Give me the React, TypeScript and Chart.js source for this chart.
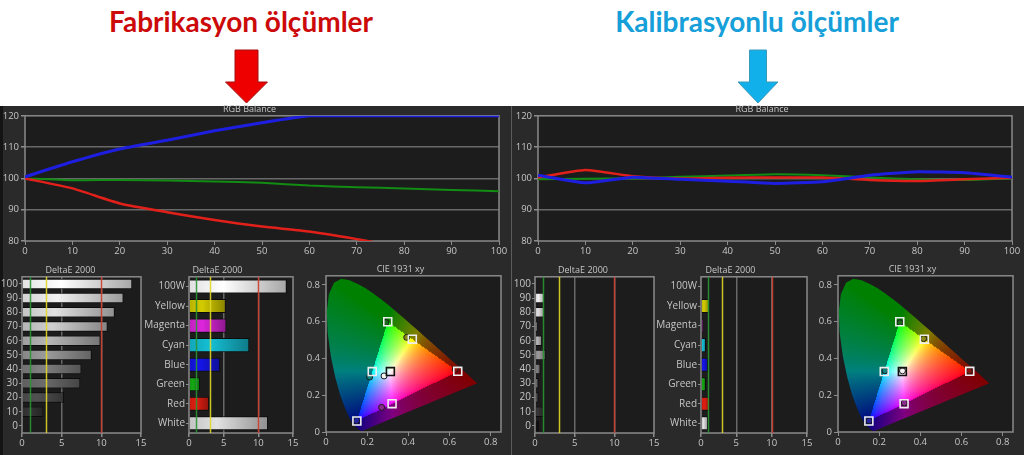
import React, { useEffect, useRef } from "react";
import { Chart, registerables } from "chart.js";
Chart.register(...registerables);

// ---------------- DATA ----------------
const rgbLevels = [0, 10, 20, 30, 40, 50, 60, 70, 80, 90, 100];
const factoryRed = [100, 96.8, 92, 89.2, 86.7, 84.6, 83, 80.6, 78, 76.5, 75];
const factoryGreen = [100, 99.4, 99.5, 99.3, 99, 98.6, 97.7, 97.2, 96.8, 96.3, 95.9];
const factoryBlue = [100.5, 105.3, 109.4, 112.2, 115.2, 117.8, 120, 120, 120, 120, 120];
const calRed = [100.3, 102.7, 100.7, 100, 100.2, 100.3, 100.3, 99.5, 99.2, 99.7, 100.2];
const calGreen = [99.7, 99.9, 100, 100.5, 100.9, 101.3, 101, 100.3, 99.7, 99.5, 100];
const calBlue = [101, 98.6, 100.4, 99.7, 99.1, 98.4, 98.9, 101, 102.1, 101.8, 100.4];

const grayLabels = ["100", "90", "80", "70", "60", "50", "40", "30", "20", "10", "0"];
const factoryGrayDE = [13.9, 12.8, 11.7, 10.8, 9.9, 8.8, 7.5, 7.35, 5.3, 2.7, 0];
const calGrayDE = [0, 1.2, 1.15, 0.3, 0.9, 1.35, 0.7, 0.45, 0.45, 1.1, 0.5];
const grayBarColors = ["#f6f6f6", "#e4e4e4", "#d4d4d4", "#c4c4c4", "#acacac", "#929292", "#7a7a7a", "#666666", "#4c4c4c", "#333333", "#101010"];

const colorLabels = ["100W", "Yellow", "Magenta", "Cyan", "Blue", "Green", "Red", "White"];
const factoryColorDE = [14.1, 5.3, 5.4, 8.7, 4.5, 1.6, 2.9, 11.4];
const calColorDE = [0, 1.2, 0.3, 0.7, 1.0, 0.7, 1.3, 1.0];
const colorBarColors = ["#f4f4f4", "#c8c000", "#d024d0", "#14b4c8", "#1414dc", "#14a014", "#d41c10", "#d4d4d4"];

const deltaRefValues = [1, 3, 10];
const deltaRefColors = ["rgba(40,150,50,0.9)", "rgba(225,215,40,0.9)", "rgba(205,60,45,0.9)"];

// CIE 1931 spectral locus (x, y)
const locusX = [0.1741, 0.1714, 0.1644, 0.1566, 0.144, 0.1241, 0.1096, 0.0913, 0.0687, 0.0454, 0.0235, 0.0082, 0.0039, 0.0139, 0.0389, 0.0743, 0.1142, 0.1547, 0.1929, 0.2296, 0.2658, 0.3016, 0.3373, 0.3731, 0.4087, 0.4441, 0.4788, 0.5125, 0.5448, 0.5752, 0.6029, 0.627, 0.6658, 0.6915, 0.719, 0.7347];
const locusY = [0.005, 0.0051, 0.0109, 0.0177, 0.0297, 0.0578, 0.0868, 0.1327, 0.2007, 0.295, 0.4127, 0.5384, 0.6548, 0.7502, 0.812, 0.8338, 0.8262, 0.8059, 0.7816, 0.7543, 0.7243, 0.6923, 0.6589, 0.6245, 0.5896, 0.5547, 0.5202, 0.4866, 0.4544, 0.4242, 0.3965, 0.3725, 0.334, 0.3083, 0.2809, 0.2653];

// targets: R, G, B, Y, C, M, W
const targetX = [0.64, 0.3, 0.15, 0.4193, 0.2246, 0.3209, 0.3127];
const targetY = [0.33, 0.6, 0.06, 0.5053, 0.3287, 0.1542, 0.329];
const targetBorder = ["#eeeeee", "#eeeeee", "#eeeeee", "#eeeeee", "#eeeeee", "#eeeeee", "#111111"];
const factoryMeasX = [0.628, 0.291, 0.148, 0.392, 0.212, 0.27, 0.282];
const factoryMeasY = [0.341, 0.596, 0.062, 0.515, 0.299, 0.134, 0.305];
const calMeasX = [0.638, 0.301, 0.151, 0.416, 0.228, 0.322, 0.313];
const calMeasY = [0.332, 0.595, 0.061, 0.508, 0.333, 0.158, 0.333];
const measColors = ["#8a1410", "#1c6a1c", "#2424a0", "#8a8a14", "#128080", "#8a2a8a", "#f2f2f2"];
const cieTicks = [0, 0.2, 0.4, 0.6, 0.8];

// ---------------- HELPERS ----------------
Chart.defaults.font.family = "'Open Sans', 'DejaVu Sans', sans-serif";
Chart.defaults.font.size = 9.5;
Chart.defaults.color = "#c6c6c6";

const GRID = "#686868";
const TICK = "#8c8c8c";

function shade(hex: string, f: number) {
  const n = parseInt(hex.slice(1), 16);
  const r = Math.min(255, Math.round(((n >> 16) & 255) * f));
  const g = Math.min(255, Math.round(((n >> 8) & 255) * f));
  const b = Math.min(255, Math.round((n & 255) * f));
  return `rgb(${r},${g},${b})`;
}

function framePlugin() {
  return {
    id: "frame",
    beforeDraw(chart: any) {
      const { ctx, chartArea: a } = chart;
      ctx.save();
      ctx.fillStyle = "#1c1c1c";
      ctx.fillRect(a.left, a.top, a.right - a.left, a.bottom - a.top);
      ctx.restore();
    },
    beforeDatasetsDraw(chart: any) {
      const { ctx, chartArea: a } = chart;
      ctx.save();
      ctx.strokeStyle = "#8a8a8a";
      ctx.lineWidth = 1.5;
      ctx.strokeRect(a.left, a.top, a.right - a.left, a.bottom - a.top);
      ctx.restore();
    },
  };
}

const refLinesPlugin = {
  id: "refLines",
  afterDatasetsDraw(chart: any) {
    const xs = chart.scales.x;
    const a = chart.chartArea;
    const ctx = chart.ctx;
    deltaRefValues.forEach((v, i) => {
      const px = Math.round(xs.getPixelForValue(v)) + 0.5;
      ctx.save();
      ctx.strokeStyle = deltaRefColors[i];
      ctx.lineWidth = 1.5;
      ctx.beginPath();
      ctx.moveTo(px, a.top);
      ctx.lineTo(px, a.bottom);
      ctx.stroke();
      ctx.restore();
    });
  },
};

function inTriangle(x: number, y: number) {
  const s = (ax: number, ay: number, bx: number, by: number) => (x - bx) * (ay - by) - (ax - bx) * (y - by);
  const d1 = s(targetX[0], targetY[0], targetX[1], targetY[1]);
  const d2 = s(targetX[1], targetY[1], targetX[2], targetY[2]);
  const d3 = s(targetX[2], targetY[2], targetX[0], targetY[0]);
  const neg = d1 < 0 || d2 < 0 || d3 < 0;
  const pos = d1 > 0 || d2 > 0 || d3 > 0;
  return !(neg && pos);
}

function gam(c: number) {
  return Math.pow(Math.max(0, c), 1 / 1.4);
}

const ciePlugin = {
  id: "cieFill",
  beforeDatasetsDraw(chart: any) {
    const a = chart.chartArea;
    const xs = chart.scales.x;
    const ys = chart.scales.y;
    const w = Math.ceil(a.right - a.left);
    const h = Math.ceil(a.bottom - a.top);
    const off = document.createElement("canvas");
    off.width = w;
    off.height = h;
    const octx = off.getContext("2d")!;
    const img = octx.createImageData(w, h);
    for (let py = 0; py < h; py++) {
      const yv = ys.getValueForPixel(a.top + py + 0.5);
      if (yv <= 0.001) continue;
      for (let px = 0; px < w; px++) {
        const xv = xs.getValueForPixel(a.left + px + 0.5);
        const X = xv / yv;
        const Z = (1 - xv - yv) / yv;
        let r = 3.2406 * X - 1.5372 - 0.4986 * Z;
        let g = -0.9689 * X + 1.8758 + 0.0415 * Z;
        let b = 0.0557 * X - 0.204 + 1.057 * Z;
        r = Math.max(0, r);
        g = Math.max(0, g);
        b = Math.max(0, b);
        const m = Math.max(r, g, b) || 1;
        const f = inTriangle(xv, yv) ? 1 : 0.5;
        const i = (py * w + px) * 4;
        img.data[i] = Math.round(gam(r / m) * 255 * f);
        img.data[i + 1] = Math.round(gam(g / m) * 255 * f);
        img.data[i + 2] = Math.round(gam(b / m) * 255 * f);
        img.data[i + 3] = 255;
      }
    }
    octx.putImageData(img, 0, 0);
    const ctx = chart.ctx;
    ctx.save();
    ctx.beginPath();
    locusX.forEach((x, i) => {
      const px = xs.getPixelForValue(x);
      const py = ys.getPixelForValue(locusY[i]);
      if (i === 0) ctx.moveTo(px, py);
      else ctx.lineTo(px, py);
    });
    ctx.closePath();
    ctx.clip();
    ctx.drawImage(off, a.left, a.top);
    ctx.restore();
  },
};

function titleOpt(text: string) {
  return {
    display: true,
    text,
    color: "#c6c6c6",
    font: { size: 9, weight: "normal" as const },
    padding: { top: 0, bottom: 1 },
  };
}

function rgbConfig(red: number[], green: number[], blue: number[], yw: number) {
  const pts = (arr: number[]) => rgbLevels.map((x, i) => ({ x, y: arr[i] }));
  return {
    type: "line",
    data: {
      datasets: [
        { data: pts(blue), borderColor: "#1e1ee0", borderWidth: 3, pointRadius: 0, tension: 0.15 },
        { data: pts(red), borderColor: "#e2201a", borderWidth: 2.5, pointRadius: 0, tension: 0.15 },
        { data: pts(green), borderColor: "#128c12", borderWidth: 2, pointRadius: 0, tension: 0.15 },
      ],
    },
    options: {
      animation: false,
      responsive: false,
      layout: { padding: { left: 0, right: 12, top: 0, bottom: 0 } },
      plugins: { legend: { display: false }, tooltip: { enabled: false }, title: titleOpt("RGB Balance") },
      scales: {
        x: {
          type: "linear",
          min: 0,
          max: 100,
          ticks: { stepSize: 10, padding: 1 },
          grid: { drawOnChartArea: false, tickColor: TICK, tickLength: 4 },
          border: { display: false },
          afterFit: (s: any) => { s.height = 14; },
        },
        y: {
          min: 80,
          max: 120,
          ticks: { stepSize: 10, padding: 2 },
          grid: {
            color: (c: any) => (c.tick && c.tick.value > 80 && c.tick.value < 120 ? GRID : "rgba(0,0,0,0)"),
            lineWidth: 1.5,
            tickColor: TICK,
            tickLength: 4,
          },
          border: { display: false },
          afterFit: (s: any) => { s.width = yw; },
        },
      },
    },
    plugins: [framePlugin()],
  };
}

function barFill(colors: string[]) {
  return (ctx: any) => {
    const base = colors[ctx.dataIndex];
    const chart = ctx.chart;
    if (!chart.chartArea || !chart.scales.x) return base;
    const xs = chart.scales.x;
    const v = Math.max(Number(ctx.raw) || 0, 0.3);
    const x0 = xs.getPixelForValue(0);
    const x1 = xs.getPixelForValue(v);
    const g = chart.ctx.createLinearGradient(x0, 0, x1, 0);
    g.addColorStop(0, shade(base, 0.92));
    g.addColorStop(0.35, shade(base, 1.06));
    g.addColorStop(1, shade(base, 0.68));
    return g;
  };
}

function barConfig(labels: string[], values: number[], colors: string[], yw: number, padRight: number, catPct: number) {
  return {
    type: "bar",
    data: {
      labels,
      datasets: [
        {
          data: values,
          backgroundColor: barFill(colors),
          borderColor: "#0c0c0c",
          borderWidth: 1,
          categoryPercentage: catPct,
          barPercentage: 1,
        },
      ],
    },
    options: {
      animation: false,
      responsive: false,
      indexAxis: "y",
      layout: { padding: { left: 0, right: padRight, top: 0, bottom: 0 } },
      plugins: { legend: { display: false }, tooltip: { enabled: false }, title: titleOpt("DeltaE 2000") },
      scales: {
        x: {
          type: "linear",
          min: 0,
          max: 15,
          ticks: { stepSize: 5, padding: 1 },
          grid: {
            color: (c: any) => (c.tick && (c.tick.value === 5 || c.tick.value === 10) ? GRID : "rgba(0,0,0,0)"),
            lineWidth: 1.5,
            tickColor: TICK,
            tickLength: 4,
          },
          border: { display: false },
          afterFit: (s: any) => { s.height = 14; },
        },
        y: {
          ticks: { padding: 1, autoSkip: false, font: { size: 10 } },
          grid: { drawOnChartArea: false, offset: false, tickColor: TICK, tickLength: 3 },
          border: { display: false },
          afterFit: (s: any) => { s.width = yw; },
        },
      },
    },
    plugins: [framePlugin(), refLinesPlugin],
  };
}

function cieConfig(measX: number[], measY: number[], yw: number, padRight: number) {
  const axis = (isX: boolean) => ({
    type: "linear",
    min: 0,
    max: 0.85,
    afterBuildTicks: (s: any) => { s.ticks = cieTicks.map((v) => ({ value: v })); },
    ticks: { padding: isX ? 1 : 2 },
    grid: { drawOnChartArea: false, tickColor: TICK, tickLength: 4 },
    border: { display: false },
    afterFit: (s: any) => { if (isX) s.height = 14; else s.width = yw; },
  });
  return {
    type: "scatter",
    data: {
      datasets: [
        {
          data: targetX.map((x, i) => ({ x, y: targetY[i] })),
          pointStyle: "rect",
          pointRadius: 5.6,
          borderColor: targetBorder,
          backgroundColor: "rgba(0,0,0,0)",
          borderWidth: 1.6,
          order: 0,
        },
        {
          data: measX.map((x, i) => ({ x, y: measY[i] })),
          pointStyle: "circle",
          pointRadius: 3,
          borderColor: "#1a1a1a",
          backgroundColor: measColors,
          borderWidth: 1,
          order: 1,
        },
      ],
    },
    options: {
      animation: false,
      responsive: false,
      layout: { padding: { left: 0, right: padRight, top: 0, bottom: 0 } },
      plugins: { legend: { display: false }, tooltip: { enabled: false }, title: titleOpt("CIE 1931 xy") },
      scales: { x: axis(true), y: axis(false) },
    },
    plugins: [framePlugin(), ciePlugin],
  };
}

type Spec = { left: number; top: number; w: number; h: number; cfg: any };

const specs: Spec[] = [
  { left: 0, top: 104, w: 511, h: 151, cfg: rgbConfig(factoryRed, factoryGreen, factoryBlue, 25) },
  { left: 512, top: 104, w: 512, h: 151, cfg: rgbConfig(calRed, calGreen, calBlue, 26) },
  { left: 0, top: 265, w: 150, h: 182, cfg: barConfig(grayLabels, factoryGrayDE, grayBarColors, 22, 9, 0.74) },
  { left: 142, top: 265, w: 159, h: 182, cfg: barConfig(colorLabels, factoryColorDE, colorBarColors, 47, 8, 0.72) },
  { left: 300, top: 264, w: 212, h: 182, cfg: cieConfig(factoryMeasX, factoryMeasY, 26, 11) },
  { left: 512, top: 265, w: 150, h: 182, cfg: barConfig(grayLabels, calGrayDE, grayBarColors, 23, 8, 0.74) },
  { left: 654, top: 265, w: 161, h: 182, cfg: barConfig(colorLabels, calColorDE, colorBarColors, 47, 8, 0.72) },
  { left: 812, top: 264, w: 212, h: 182, cfg: cieConfig(calMeasX, calMeasY, 26, 11) },
];

function ChartCanvas({ spec }: { spec: Spec }) {
  const ref = useRef<HTMLCanvasElement | null>(null);
  useEffect(() => {
    if (!ref.current) return;
    const chart = new Chart(ref.current, spec.cfg);
    return () => chart.destroy();
  }, [spec]);
  return (
    <canvas
      ref={ref}
      width={spec.w}
      height={spec.h}
      style={{ position: "absolute", left: spec.left, top: spec.top, width: spec.w, height: spec.h }}
    />
  );
}

function Arrow({ cx, shaft, head, color, stroke }: { cx: number; shaft: number; head: number; color: string; stroke: string }) {
  const top = 50, neck = 82, tip = 103;
  const pts = [
    [cx - shaft / 2, top], [cx + shaft / 2, top], [cx + shaft / 2, neck], [cx + head / 2, neck],
    [cx, tip], [cx - head / 2, neck], [cx - shaft / 2, neck],
  ].map((p) => p.join(",")).join(" ");
  return <polygon points={pts} fill={color} stroke={stroke} strokeWidth={1} />;
}

export default function App() {
  return (
    <div style={{ position: "absolute", left: 0, top: 0, width: 1024, height: 455, background: "#ffffff", overflow: "hidden" }}>
      <div style={{ position: "absolute", left: 41, top: 5, width: 400, textAlign: "center", font: "700 28px Lato, 'Open Sans', sans-serif", lineHeight: "32px", color: "#cc0a0a", whiteSpace: "nowrap" }}>
        Fabrikasyon ölçümler
      </div>
      <div style={{ position: "absolute", left: 557, top: 5, width: 400, textAlign: "center", font: "700 28px Lato, 'Open Sans', sans-serif", lineHeight: "32px", color: "#169fd8", whiteSpace: "nowrap" }}>
        Kalibrasyonlu ölçümler
      </div>
      <svg width={1024} height={106} style={{ position: "absolute", left: 0, top: 0 }}>
        <Arrow cx={246.5} shaft={23} head={42} color="#ee0000" stroke="#a01010" />
        <Arrow cx={758} shaft={17} head={40} color="#12b0ea" stroke="#3a9ab8" />
      </svg>
      <div style={{ position: "absolute", left: 0, top: 106, width: 511, height: 349, background: "#2a2a2a" }} />
      <div style={{ position: "absolute", left: 0, top: 106, width: 3, height: 349, background: "#141414" }} />
      <div style={{ position: "absolute", left: 511, top: 106, width: 1, height: 349, background: "#5c5c5c" }} />
      <div style={{ position: "absolute", left: 512, top: 106, width: 512, height: 349, background: "#2a2a2a" }} />
      {specs.map((s, i) => (
        <ChartCanvas key={i} spec={s} />
      ))}
    </div>
  );
}
